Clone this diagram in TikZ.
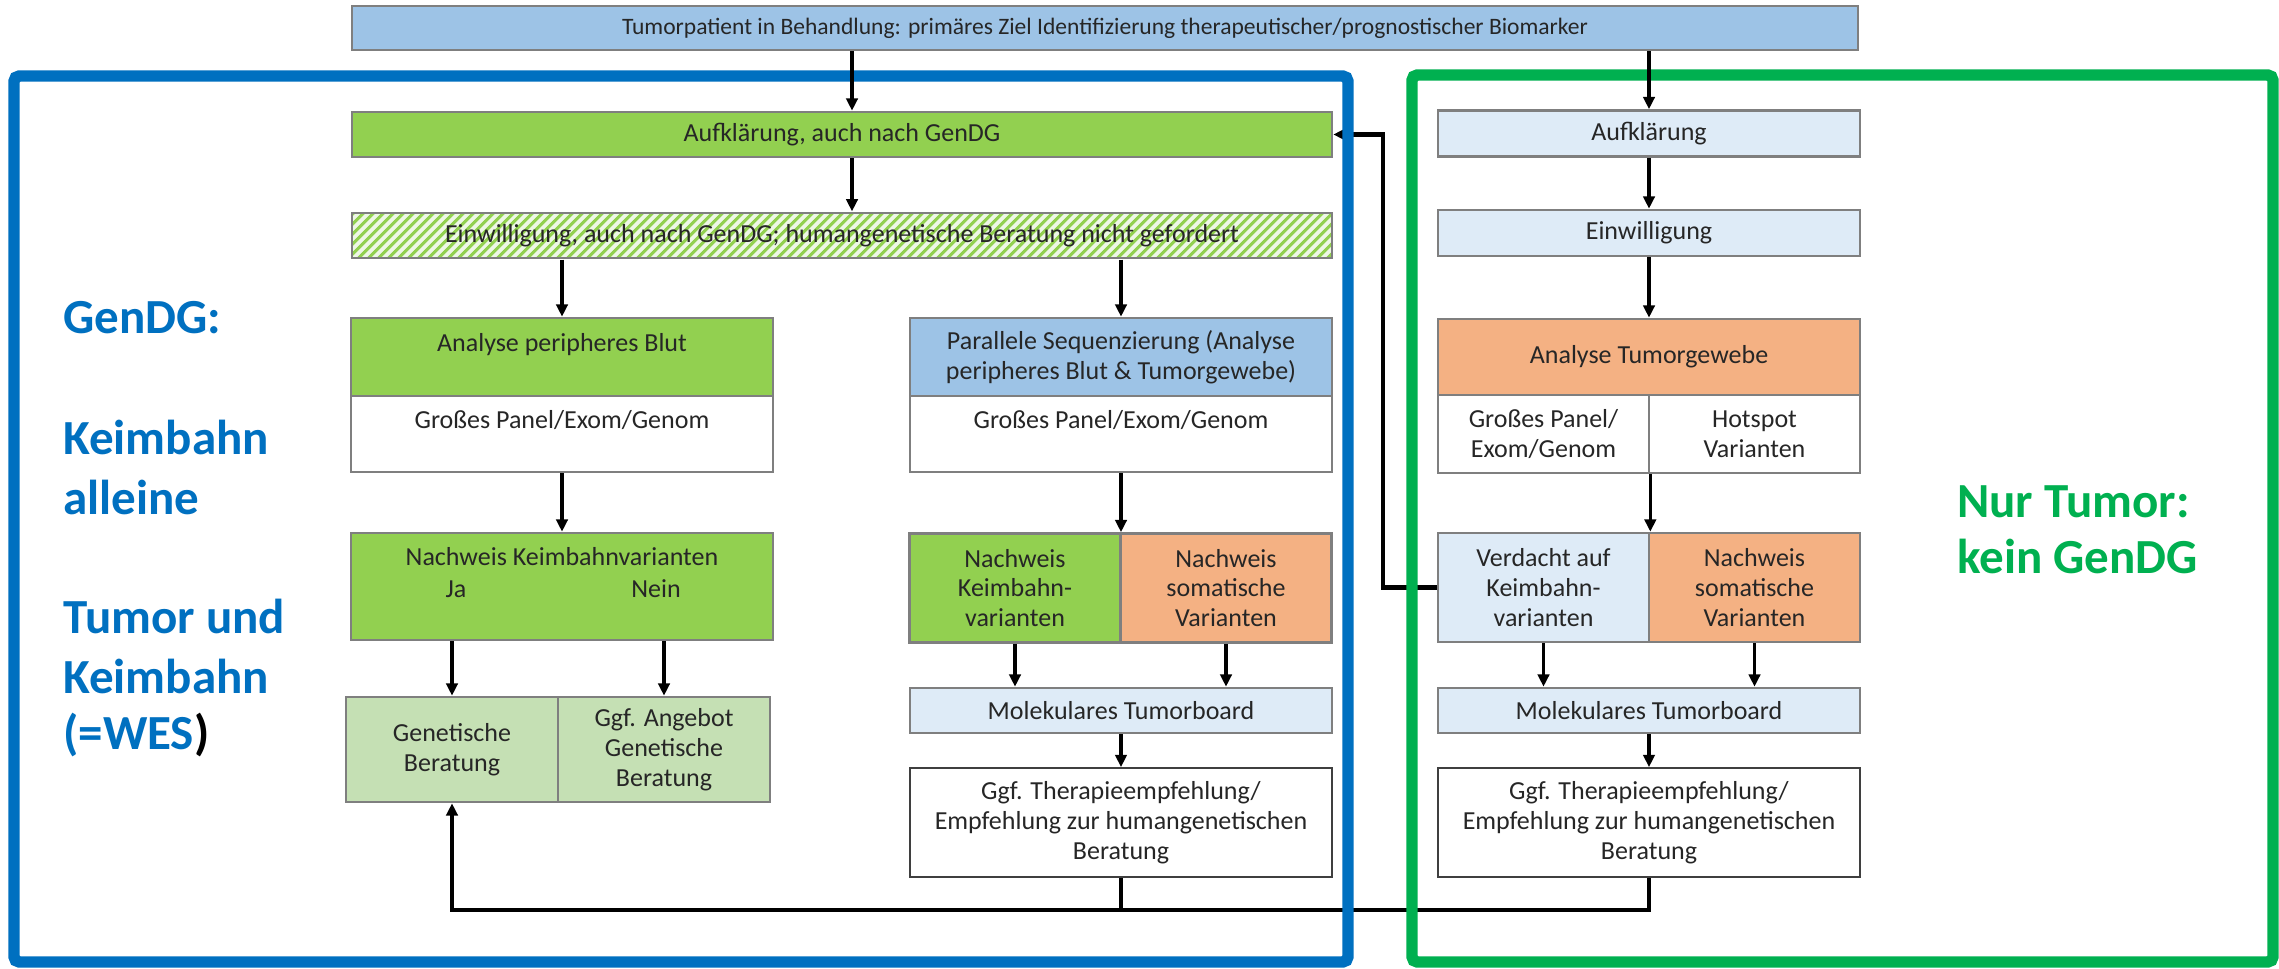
\documentclass[tikz,border=0pt]{standalone}
\usepackage{fontspec}
\setmainfont{Carlito}
\usetikzlibrary{arrows.meta,patterns.meta}
\definecolor{gvTopBlue}{HTML}{9DC3E6}
\definecolor{gvPaleBlue}{HTML}{DEEBF7}
\definecolor{gvGreen}{HTML}{92D050}
\definecolor{gvPaleGreen}{HTML}{C5E0B4}
\definecolor{gvHatchBg}{HTML}{EEF7E6}
\definecolor{gvOrange}{HTML}{F4B183}
\definecolor{gvBorder}{HTML}{7F7F7F}
\definecolor{gvDark}{HTML}{3F3F3F}
\definecolor{gvFrameBlue}{HTML}{0070C0}
\definecolor{gvFrameGreen}{HTML}{00B050}
\newcommand{\gvfont}{\fontsize{14.8}{17}\selectfont}
\newcommand{\gvtopfont}{\fontsize{13.4}{15}\selectfont}
\newcommand{\gvsidefont}{\fontsize{27.9}{33}\selectfont\bfseries}
\tikzset{
  gv box/.style={draw=gvBorder, line width=1.5pt, inner sep=0pt, align=center, font=\gvfont, text=black!85},
  gv size/.style 2 args={minimum width=#1*0.02cm, minimum height=#2*0.02cm},
  gv plain/.style={inner sep=0pt, anchor=base, font=\gvfont, text=black!85},
  gv arrow/.style={line width=1.9pt, -{Triangle[length=7pt,width=6.5pt]}},
  gv back/.style={line width=2.3pt},
  gv frame/.style={line width=6.5pt, rounded corners=3pt},
  gv side/.style={font=\gvsidefont, text=gvFrameBlue, anchor=base west, inner sep=0pt},
}

\begin{document}
\begin{tikzpicture}[x=0.02cm,y=-0.02cm]
  \path[fill=white,use as bounding box] (0,0) rectangle (2279,969);
  % top
  \node[gv box, gv size={1506}{44}, fill=gvTopBlue, font=\gvtopfont] (patient) at (1105,28) {Tumorpatient in Behandlung: primäres Ziel Identifizierung therapeutischer/prognostischer Biomarker};
  % GenDG side
  \node[gv box, gv size={980}{45}, fill=gvGreen] (aufL) at (842,134.5) {Aufklärung, auch nach GenDG};
  \node[gv box, gv size={980}{45}, preaction={fill=gvHatchBg}, pattern={Lines[angle=45,distance=4pt,line width=1.8pt]}, pattern color=gvGreen] (einL) at (842,235.5) {Einwilligung, auch nach GenDG; humangenetische Beratung nicht gefordert};
  \node[gv box, gv size={422}{78}, fill=gvGreen] (blutH) at (562,357) {Analyse peripheres Blut\\ \mbox{}};
  \node[gv box, gv size={422}{76}, fill=white] (blutL) at (562,434) {Großes Panel/Exom/Genom\\ \mbox{}};
  \node[gv box, gv size={422}{78}, fill=gvTopBlue] (seqH) at (1121,357) {Parallele Sequenzierung (Analyse\\ peripheres Blut \& Tumorgewebe)};
  \node[gv box, gv size={422}{76}, fill=white] (seqL) at (1121,434) {Großes Panel/Exom/Genom\\ \mbox{}};
  \node[gv box, gv size={422}{107}, fill=gvGreen] (nachL) at (562,586.5) {Nachweis Keimbahnvarianten\\ \mbox{}\\ \mbox{}};
  \node[gv plain] (ja) at (456,597) {Ja};
  \node[gv plain] (nein) at (656,597) {Nein};
  \node[gv box, gv size={211}{109}, fill=gvGreen] (nkM) at (1015,588) {Nachweis\\ Keimbahn-\\ varianten};
  \node[gv box, gv size={211}{109}, fill=gvOrange] (nsM) at (1226,588) {Nachweis\\ somatische\\ Varianten};
  \node[gv box, gv size={212}{105}, fill=gvPaleGreen] (genB) at (452,749.5) {Genetische\\ Beratung};
  \node[gv box, gv size={212}{105}, fill=gvPaleGreen] (angB) at (664,749.5) {Ggf. Angebot\\ Genetische\\ Beratung};
  \node[gv box, gv size={422}{45}, fill=gvPaleBlue] (molM) at (1121,710.5) {Molekulares Tumorboard};
  \node[gv box, gv size={422}{109}, fill=white, draw=gvDark, line width=1pt] (therM) at (1121,822.5) {Ggf. Therapieempfehlung/\\ Empfehlung zur humangenetischen\\ Beratung};
  % tumour only side
  \node[gv box, gv size={422}{46}, fill=gvPaleBlue] (aufR) at (1649,133.5) {Aufklärung};
  \node[gv box, gv size={422}{46}, fill=gvPaleBlue] (einR) at (1649,233) {Einwilligung};
  \node[gv box, gv size={422}{76}, fill=gvOrange] (tumH) at (1649,357) {Analyse Tumorgewebe};
  \node[gv box, gv size={211}{78}, fill=white] (tumLa) at (1543.5,434) {Großes Panel/\\ Exom/Genom};
  \node[gv box, gv size={211}{78}, fill=white] (tumLb) at (1754.5,434) {Hotspot\\ Varianten};
  \node[gv box, gv size={211}{109}, fill=gvPaleBlue] (verdR) at (1543.5,587.5) {Verdacht auf\\ Keimbahn-\\ varianten};
  \node[gv box, gv size={211}{109}, fill=gvOrange] (nsR) at (1754.5,587.5) {Nachweis\\ somatische\\ Varianten};
  \node[gv box, gv size={422}{45}, fill=gvPaleBlue] (molR) at (1649,710.5) {Molekulares Tumorboard};
  \node[gv box, gv size={422}{109}, fill=white, draw=gvDark, line width=1pt] (therR) at (1649,822.5) {Ggf. Therapieempfehlung/\\ Empfehlung zur humangenetischen\\ Beratung};
  % feedback lines
  \coordinate (fbLow) at (0,910);
  \coordinate (fbRight) at (1383,0);
  \draw[gv back] (therM.south) -- (therM.south |- fbLow);
  \draw[gv back, -{Triangle[length=7pt,width=6.5pt]}] (therR.south) -- (therR.south |- fbLow) -| (genB.south);
  \draw[gv back, -{Triangle[length=7pt,width=6.5pt]}] (verdR.west) -- (fbRight |- verdR.west) |- (aufL.east);
  % frames
  \draw[gv frame, draw=gvFrameBlue] (14,76) rectangle (1348,962);
  \draw[gv frame, draw=gvFrameGreen] (1412,75) rectangle (2273,962);
  % arrows
  \draw[gv arrow] (852,0 |- patient.south) -- (852,0 |- aufL.north);
  \draw[gv arrow] (852,0 |- aufL.south) -- (852,0 |- einL.north);
  \draw[gv arrow] (einL.south -| blutH) -- (blutH.north);
  \draw[gv arrow] (einL.south -| seqH) -- (seqH.north);
  \draw[gv arrow] (blutL.south) -- (nachL.north);
  \draw[gv arrow] (seqL.south) -- (seqL.south |- nkM.north);
  \draw[gv arrow] (nachL.south -| genB) -- (genB.north);
  \draw[gv arrow] (nachL.south -| angB) -- (angB.north);
  \draw[gv arrow] (nkM.south) -- (nkM.south |- molM.north);
  \draw[gv arrow] (nsM.south) -- (nsM.south |- molM.north);
  \draw[gv arrow] (molM.south) -- (therM.north);
  \draw[gv arrow] (patient.south -| aufR) -- (aufR.north);
  \draw[gv arrow] (aufR.south) -- (einR.north);
  \draw[gv arrow] (einR.south) -- (tumH.north);
  \draw[gv arrow] (tumLa.south east) -- (tumLa.south east |- verdR.north);
  \draw[gv arrow] (verdR.south) -- (verdR.south |- molR.north);
  \draw[gv arrow] (nsR.south) -- (nsR.south |- molR.north);
  \draw[gv arrow] (molR.south) -- (therR.north);
  % side labels
  \foreach \txt/\yy [count=\i] in {GenDG:/334, Keimbahn/455, alleine/514, Tumor und/633, Keimbahn/693}{\node[gv side] (side\i) at (63,\yy) {\txt};}
  \node[gv side] (side6) at (63,749) {(=WES\textcolor{black}{)}};
  \node[gv side, text=gvFrameGreen] (tumor1) at (1957,518) {Nur Tumor:};
  \node[gv side, text=gvFrameGreen] (tumor2) at (1957,573) {kein GenDG};
\end{tikzpicture}
\end{document}
